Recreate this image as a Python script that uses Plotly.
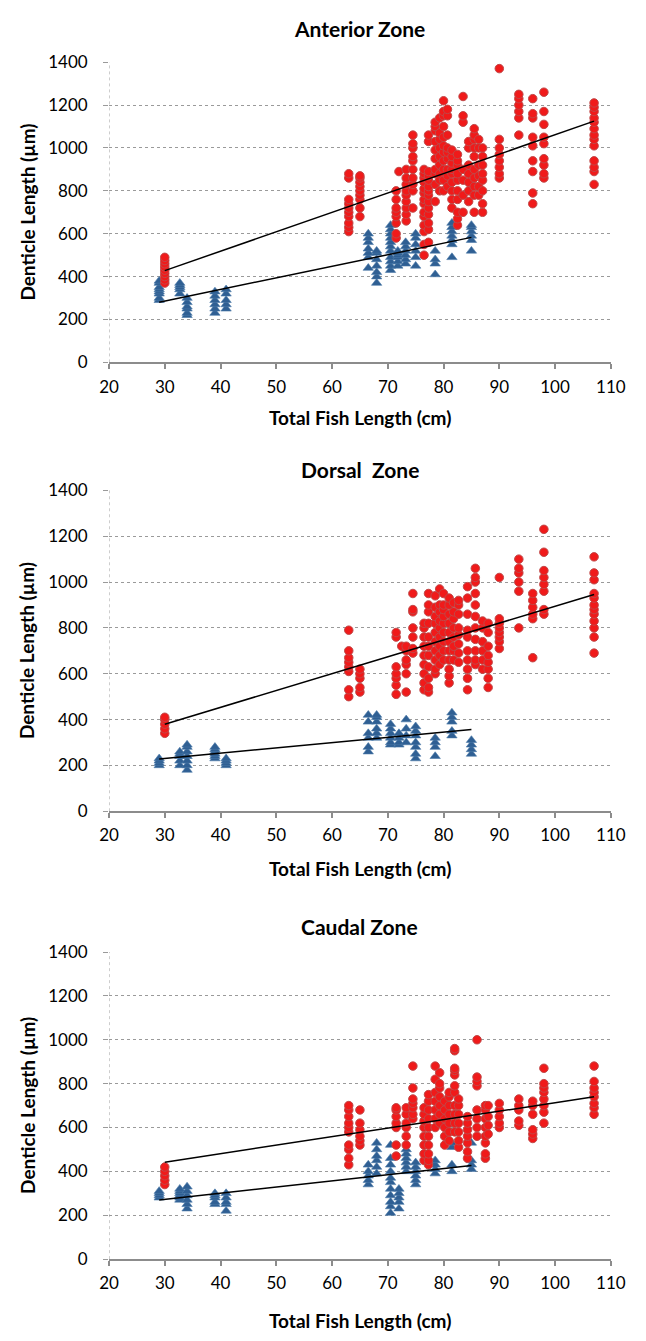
import plotly.graph_objects as go

# ---------------- DATA ----------------
panel_titles = ["Anterior Zone", "Dorsal  Zone", "Caudal Zone"]
x_title = "Total Fish Length (cm)"
y_title = "Denticle Length (µm)"
x_ticks = [20, 30, 40, 50, 60, 70, 80, 90, 100, 110]
y_ticks = [0, 200, 400, 600, 800, 1000, 1200, 1400]

# Anterior zone
ant_red_cols = [30, 63, 65, 71.5, 72, 73.3, 74.5, 76.5, 77.3, 78.5, 79.3, 80, 80.7, 81.5, 82.5,
                83.5, 84.5, 85.5, 86.3, 87, 90, 93.5, 96, 98, 107]
ant_red_vals = [
    [370, 385, 400, 415, 430, 445, 460, 475, 490],
    [610, 630, 650, 680, 700, 720, 740, 760, 860, 880],
    [680, 720, 760, 780, 800, 820, 840, 860, 870],
    [580, 600, 650, 680, 700, 720, 760, 800],
    [890],
    [660, 690, 720, 750, 780, 800, 830, 860, 900],
    [720, 800, 830, 860, 900, 940, 960, 1000, 1020, 1060],
    [500, 550, 610, 640, 680, 700, 740, 760, 790, 810, 840, 860, 880, 900],
    [560, 620, 650, 690, 720, 750, 780, 800, 820, 850, 870, 890, 1030, 1060],
    [750, 830, 880, 900, 950, 990, 1030, 1080, 1100, 1120],
    [800, 850, 880, 920, 960, 1000, 1040, 1070, 1140],
    [800, 850, 900, 940, 980, 1010, 1050, 1100, 1150, 1170, 1220],
    [820, 870, 900, 950, 980, 1000, 1060, 1150, 1180],
    [720, 760, 800, 840, 880, 900, 930, 960, 990],
    [640, 670, 700, 760, 800, 850, 880, 920, 940, 970],
    [700, 780, 850, 900, 1120, 1150, 1240],
    [750, 800, 840, 880, 920, 1000, 1030],
    [700, 780, 820, 860, 900, 960, 1000, 1040, 1060, 1090],
    [780, 820, 870, 920, 1000, 1040],
    [700, 740, 800, 850, 880, 920, 960, 1000],
    [860, 880, 910, 940, 970, 1000, 1040, 1370],
    [1060, 1140, 1170, 1200, 1230, 1250],
    [740, 790, 890, 940, 1010, 1050, 1140, 1160, 1230],
    [860, 880, 920, 950, 1020, 1050, 1110, 1170, 1260],
    [830, 890, 910, 940, 1010, 1040, 1060, 1090, 1120, 1140, 1170, 1190, 1210],
]
ant_blue_cols = [29, 32.7, 34, 39, 41, 66.5, 68, 70.5, 71.8, 73.2, 75, 78.5, 81.5, 85]
ant_blue_vals = [
    [290, 300, 320, 330, 340, 350, 370, 380],
    [320, 340, 350, 360, 370],
    [220, 230, 250, 260, 280, 300],
    [230, 250, 270, 290, 310, 330],
    [250, 270, 290, 320, 340],
    [440, 490, 510, 530, 560, 580, 600],
    [370, 400, 420, 450, 480, 510, 520],
    [430, 450, 470, 490, 520, 540, 560, 580, 600, 620, 640],
    [450, 470, 490, 500, 510, 520],
    [460, 480, 500, 520, 540, 560],
    [450, 490, 520, 550, 580, 600],
    [410, 460, 480, 520],
    [490, 550, 570, 590, 610, 630, 650],
    [520, 570, 590, 610, 630, 640],
]
ant_fit_red_x, ant_fit_red_y = [30, 107], [428, 1125]
ant_fit_blue_x, ant_fit_blue_y = [29, 85], [281, 583]

# Dorsal zone
dor_red_cols = [30, 63, 65, 71.5, 72.5, 73.3, 74.5, 76.5, 77.3, 78.5, 79.3, 80, 81, 81.8, 82.7,
                84.3, 85.7, 87, 88, 90, 93.5, 96, 98, 107]
dor_red_vals = [
    [340, 360, 380, 400, 410],
    [500, 530, 610, 630, 650, 670, 700, 790],
    [520, 540, 580, 600, 620],
    [510, 550, 580, 600, 630, 760, 780],
    [720],
    [520, 600, 640, 660, 700, 720],
    [690, 710, 760, 800, 870, 880, 950],
    [530, 560, 600, 640, 680, 720, 760, 800, 820],
    [520, 540, 580, 630, 680, 720, 760, 820, 870, 900, 950],
    [600, 620, 660, 700, 740, 780, 820, 850, 890, 940],
    [640, 680, 720, 760, 800, 830, 870, 900, 970],
    [660, 700, 740, 780, 820, 850, 880, 900, 950],
    [560, 590, 620, 660, 700, 740, 780, 820, 860, 900, 930],
    [660, 700, 720, 760, 800, 840, 870, 910],
    [650, 690, 730, 770, 800, 860, 900, 920],
    [530, 580, 620, 660, 700, 760, 790, 860, 930, 980],
    [640, 660, 700, 750, 800, 850, 900, 950, 1000, 1020, 1060],
    [620, 660, 700, 740, 800, 830],
    [540, 580, 620, 650, 680, 720, 780, 820],
    [710, 740, 760, 780, 800, 820, 840, 1020],
    [800, 960, 1000, 1040, 1060, 1100],
    [670, 840, 860, 890, 920, 950],
    [860, 880, 960, 990, 1020, 1050, 1130, 1230],
    [690, 760, 800, 830, 860, 880, 900, 930, 950, 1010, 1040, 1110],
]
dor_blue_cols = [29, 32.7, 34, 39, 41, 66.5, 68, 70.5, 72, 73.3, 75, 78.5, 81.5, 85]
dor_blue_vals = [
    [200, 210, 220, 230],
    [200, 220, 240, 250, 260],
    [180, 200, 220, 240, 260, 280, 290],
    [230, 240, 250, 260, 270, 280],
    [200, 210, 220, 230],
    [260, 280, 320, 340, 390, 420],
    [320, 340, 360, 390, 410, 420],
    [290, 300, 320, 340, 360, 380],
    [290, 300, 320, 340],
    [300, 330, 360, 400],
    [230, 250, 280, 300, 330, 350, 370],
    [240, 280, 300, 320],
    [330, 350, 390, 410, 430],
    [250, 270, 290, 310],
]
dor_fit_red_x, dor_fit_red_y = [30, 107], [380, 946]
dor_fit_blue_x, dor_fit_blue_y = [29, 85], [228, 357]

# Caudal zone
cau_red_cols = [30, 63, 65, 71.5, 73.3, 74.5, 76.5, 77.3, 78.5, 79.3, 80.2, 81, 82, 82.7, 84.3,
                86, 87.5, 88, 90, 93.5, 96, 98, 107]
cau_red_vals = [
    [340, 360, 380, 400, 420],
    [430, 460, 500, 520, 580, 600, 620, 650, 680, 700],
    [520, 540, 560, 590, 620, 680],
    [470, 520, 600, 620, 650, 680, 690],
    [520, 560, 600, 620, 660, 690],
    [640, 660, 690, 710, 730, 780, 880],
    [450, 480, 520, 560, 600, 630, 660, 690],
    [430, 450, 480, 520, 560, 600, 640, 680, 720, 750],
    [600, 640, 680, 720, 760, 820, 880],
    [620, 660, 700, 740, 780, 800, 850],
    [520, 560, 600, 640, 680, 720],
    [540, 580, 620, 660, 700, 740, 760],
    [580, 620, 660, 700, 760, 790, 840, 860, 870, 950, 960],
    [510, 540, 580, 620, 660, 700, 730],
    [460, 490, 530, 560, 590, 620, 650],
    [560, 600, 640, 680, 790, 810, 830, 1000],
    [460, 480, 530, 560, 600, 640, 680, 700],
    [570, 610, 650, 700],
    [600, 620, 650, 680, 710],
    [610, 630, 680, 700, 730],
    [550, 570, 590, 660, 700, 720],
    [620, 670, 700, 730, 760, 780, 800, 870],
    [660, 690, 710, 740, 760, 780, 810, 880],
]
cau_blue_cols = [29, 32.7, 34, 39, 41, 66.5, 68, 70.5, 72, 73.3, 75, 78.5, 81.5, 85]
cau_blue_vals = [
    [280, 290, 300, 310],
    [270, 280, 290, 300, 310, 320],
    [230, 250, 270, 290, 310, 330],
    [250, 260, 280, 290, 300],
    [220, 250, 260, 280, 300],
    [340, 360, 380, 400, 430],
    [390, 420, 450, 470, 500, 530],
    [210, 240, 260, 290, 320, 350, 370, 400, 430, 460, 520],
    [230, 260, 280, 300, 320],
    [400, 420, 440, 460, 480, 500],
    [340, 360, 380, 400, 420, 440],
    [390, 410, 430, 450],
    [400, 430, 510, 530],
    [410, 430, 450, 530],
]
cau_fit_red_x, cau_fit_red_y = [30, 107], [442, 740]
cau_fit_blue_x, cau_fit_blue_y = [29, 85], [270, 427]

# ---------------- FIGURE ----------------
W, H = 646, 1341
FONT = "Lato, 'Open Sans', sans-serif"
RED = "#f01a1a"
RED_EDGE = "#c04848"
BLUE = "#2f5f93"
GRID = "#9a9a9a"

panels = [
    dict(red=(ant_red_cols, ant_red_vals), blue=(ant_blue_cols, ant_blue_vals),
         fr=(ant_fit_red_x, ant_fit_red_y), fb=(ant_fit_blue_x, ant_fit_blue_y),
         top=52, bottom=357, title_y=18, xt_y=413),
    dict(red=(dor_red_cols, dor_red_vals), blue=(dor_blue_cols, dor_blue_vals),
         fr=(dor_fit_red_x, dor_fit_red_y), fb=(dor_fit_blue_x, dor_fit_blue_y),
         top=487, bottom=813, title_y=466, xt_y=871),
    dict(red=(cau_red_cols, cau_red_vals), blue=(cau_blue_cols, cau_blue_vals),
         fr=(cau_fit_red_x, cau_fit_red_y), fb=(cau_fit_blue_x, cau_fit_blue_y),
         top=956, bottom=1268, title_y=930, xt_y=1330),
]

def flatten(cols, vals):
    xs, ys = [], []
    for c, vs in zip(cols, vals):
        for v in vs:
            xs.append(c)
            ys.append(v)
    return xs, ys

fig = go.Figure()
L, R = 103, 625
layout = dict(
    width=W, height=H, margin=dict(l=0, r=0, t=0, b=0),
    paper_bgcolor="white", plot_bgcolor="white", showlegend=False,
    font=dict(family=FONT, color="black"),
)
annotations = []
shapes = []
for i, p in enumerate(panels):
    n = "" if i == 0 else str(i + 1)
    xa, ya = "x" + n, "y" + n
    bx, by = flatten(*p["blue"])
    rx, ry = flatten(*p["red"])
    fig.add_trace(go.Scatter(x=bx, y=by, mode="markers", xaxis=xa, yaxis=ya,
                             marker=dict(symbol="triangle-up", size=9, color=BLUE,
                                         line=dict(color="#4a78a8", width=0.6))))
    fig.add_trace(go.Scatter(x=rx, y=ry, mode="markers", xaxis=xa, yaxis=ya,
                             marker=dict(symbol="circle", size=8.5, color=RED,
                                         line=dict(color=RED_EDGE, width=1))))
    for fx, fy in (p["fr"], p["fb"]):
        fig.add_trace(go.Scatter(x=fx, y=fy, mode="lines", xaxis=xa, yaxis=ya,
                                 line=dict(color="black", width=1.5)))
    yd = [1 - p["bottom"] / H, 1 - p["top"] / H]
    layout["xaxis" + n] = dict(
        domain=[L / W, R / W], range=[20, 110], tickvals=x_ticks, anchor=ya,
        showgrid=False, zeroline=False, showline=True, linecolor="#8c8c8c", linewidth=1.5,
        ticks="outside", ticklen=5, tickcolor="#8c8c8c", tickwidth=1.5,
        tickfont=dict(size=17, family=FONT, color="black"), ticklabelstandoff=3,
    )
    layout["yaxis" + n] = dict(
        domain=yd, range=[0, 1400], tickvals=y_ticks, anchor=xa,
        showgrid=True, gridcolor=GRID, griddash="dot", gridwidth=1,
        zeroline=False, showline=False,
        ticks="outside", ticklen=5, tickcolor=GRID, tickwidth=1,
        tickfont=dict(size=17, family=FONT, color="black"), ticklabelstandoff=12,
    )
    shapes.append(dict(type="line", xref=xa, yref=ya + " domain", x0=20, x1=20, y0=0, y1=1,
                       line=dict(color=GRID, width=1, dash="dot"), layer="below"))
    cx = (L + R) / 2 / W
    annotations.append(dict(text="<b>%s</b>" % panel_titles[i], xref="paper", yref="paper",
                            x=cx, y=1 - p["title_y"] / H, showarrow=False,
                            font=dict(size=21, family=FONT, color="black"),
                            xanchor="center", yanchor="middle"))
    annotations.append(dict(text="<b>%s</b>" % x_title, xref="paper", yref="paper",
                            x=cx, y=1 - p["xt_y"] / H, showarrow=False,
                            font=dict(size=19, family=FONT, color="black"),
                            xanchor="center", yanchor="middle"))
    annotations.append(dict(text="<b>%s</b>" % y_title, xref="paper", yref="paper",
                            x=18 / W, y=1 - (p["top"] + p["bottom"]) / 2 / H, showarrow=False,
                            textangle=-90,
                            font=dict(size=19, family=FONT, color="black"),
                            xanchor="center", yanchor="middle"))

layout["annotations"] = annotations
layout["shapes"] = shapes
fig.update_layout(**layout)
fig.write_html("out.html", config={"displayModeBar": False},
               post_script="document.body.style.margin='0';document.body.style.overflow='hidden';")
